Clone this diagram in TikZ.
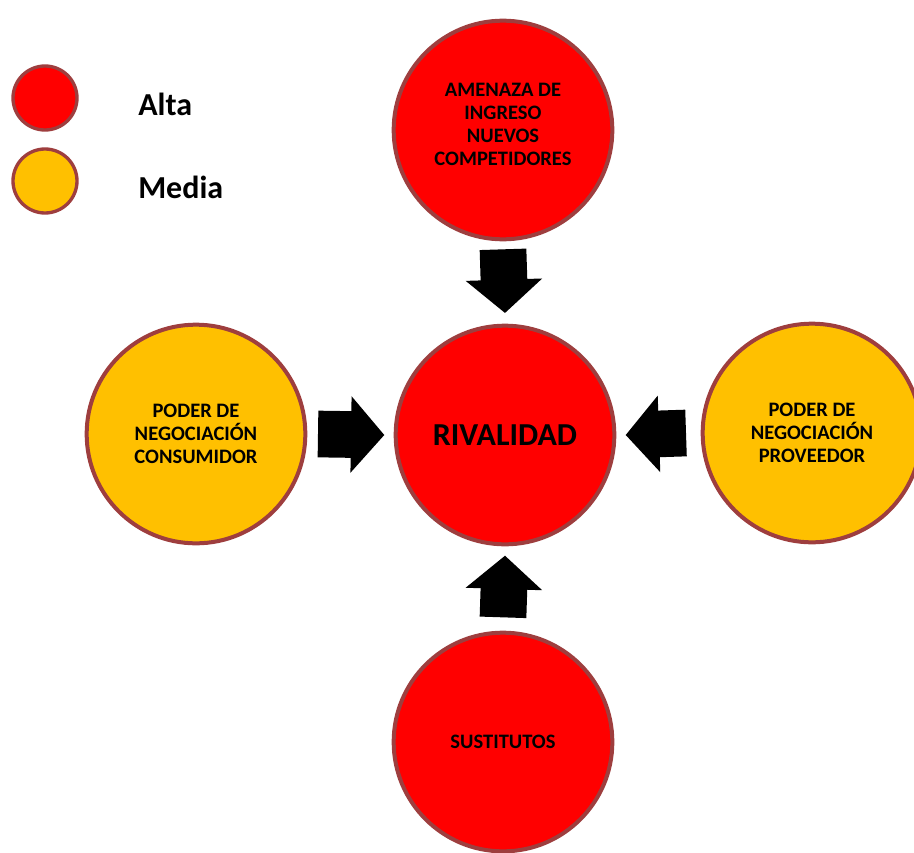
\documentclass[tikz,border=0pt]{standalone}
\usepackage{fontspec}
\setmainfont{Carlito}
\usetikzlibrary{arrows.meta}

\definecolor{alta}{RGB}{255,0,0}
\definecolor{media}{RGB}{255,192,0}
\definecolor{borde}{RGB}{158,62,62}

\tikzset{
  fuerza/.style={circle, draw=borde, line width=3pt, minimum size=164pt, inner sep=0pt,
    align=center, font=\bfseries\fontsize{15.4}{17.3}\selectfont},
  leyenda/.style={circle, draw=borde, line width=2.5pt, minimum size=48pt, inner sep=0pt},
  bloque/.style={line width=35pt, black, -{Triangle[length=25pt,width=56pt]}}
}

\begin{document}
\begin{tikzpicture}[x=0.75pt,y=0.75pt,yscale=-1,xscale=1]
\useasboundingbox (0,0) rectangle (914,853);

%Shape: Circle (legend)
\node [leyenda, fill=alta] (la) at (45,98) {};
\node [leyenda, fill=media] (lm) at (45,181) {};
% Text Node
\node [anchor=west, inner sep=0.75pt, font=\bfseries\fontsize{24}{28}\selectfont] (ta) at (137,104) {Alta};
% Text Node
\node [anchor=west, inner sep=0.75pt, font=\bfseries\fontsize{24}{28}\selectfont] (tm) at (137,187) {Media};

%Shape: Circle
\node [fuerza, fill=alta] (riv) at (505,435) {};
\node [fuerza, fill=alta] (ame) at (503,130) {};
\node [fuerza, fill=media] (con) at (196,434) {};
\node [fuerza, fill=media] (pro) at (812,433) {};
\node [fuerza, fill=alta] (sus) at (503,742) {};

% Text Node
\node [font=\bfseries\fontsize{24}{28}\selectfont] at (riv) {RIVALIDAD};
% Text Node
\node [align=center, font=\bfseries\fontsize{15.4}{17.3}\selectfont] at ([yshift=-4]ame.center) {AMENAZA DE\\INGRESO\\NUEVOS\\COMPETIDORES};
% Text Node
\node [align=center, font=\bfseries\fontsize{15.4}{17.3}\selectfont] at (con) {PODER DE\\NEGOCIACIÓN\\CONSUMIDOR};
% Text Node
\node [align=center, font=\bfseries\fontsize{15.4}{17.3}\selectfont] at (pro) {PODER DE\\NEGOCIACIÓN\\PROVEEDOR};
% Text Node
\node [font=\bfseries\fontsize{15.4}{17.3}\selectfont] at (sus) {SUSTITUTOS};

%Block Arrows
\draw [bloque] ([yshift=6]ame.south) -- ([yshift=-8]riv.north);
\draw [bloque] ([yshift=-10]sus.north) -- ([yshift=7]riv.south);
\draw [bloque] ([xshift=8]con.east) -- ([xshift=-7]riv.west);
\draw [bloque] ([xshift=-11]pro.west) -- ([xshift=7]riv.east);

\end{tikzpicture}
\end{document}
